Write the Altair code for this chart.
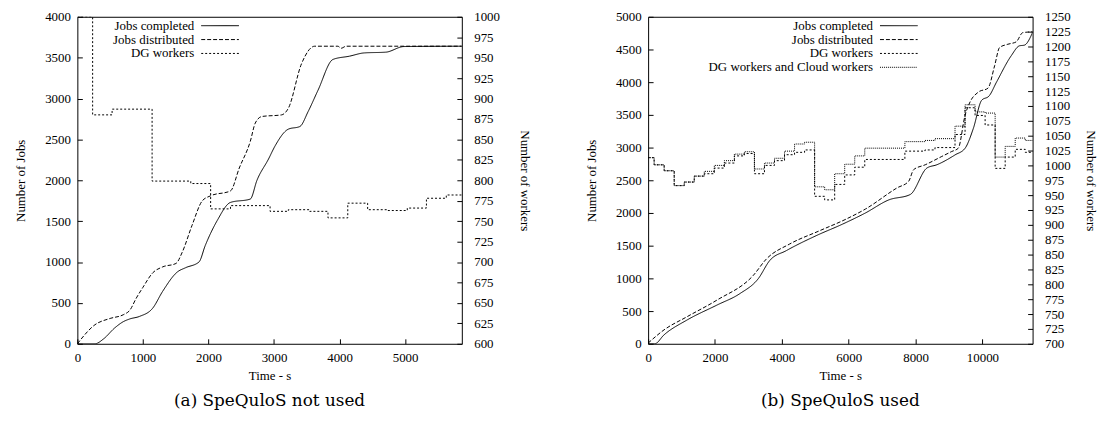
import altair as alt
import pandas as pd

# ---------------- Panel (a): SpeQuloS not used ----------------
a_comp_t = [0, 270, 400, 570, 700, 797, 949, 1150, 1300, 1528, 1650, 1856, 1950, 2133, 2336, 2638,
            2740, 2916, 3016, 3218, 3395, 3520, 3672, 3899, 4151, 4378, 4705, 4983, 5865]
a_comp_v = [0, 0, 60, 194, 270, 303, 335, 436, 640, 880, 930, 1001, 1200, 1507, 1729, 1770,
            2000, 2260, 2420, 2625, 2658, 2840, 3103, 3478, 3518, 3558, 3567, 3636, 3640]

a_dist_t = [0, 269, 500, 700, 800, 900, 1000, 1150, 1300, 1504, 1600, 1750, 1906, 2033, 2336, 2470,
            2638, 2714, 2814, 3116, 3218, 3419, 3621, 3974, 4024, 4100, 5865]
a_dist_v = [0, 233, 310, 355, 410, 560, 690, 868, 940, 982, 1120, 1450, 1749, 1810, 1870, 2150,
            2476, 2700, 2780, 2800, 2880, 3425, 3640, 3640, 3615, 3640, 3640]

a_dg_t = [0, 233, 530, 1140, 1730, 2033, 2336, 2940, 3218, 3545, 3823, 4125, 4428, 4730, 5033, 5325, 5628, 5865]
a_dg_v = [1000, 880, 887, 799, 796, 765, 769, 762, 764, 762, 754, 772, 764, 763, 766, 778, 782, 782]

# ---------------- Panel (b): SpeQuloS used ----------------
b_comp_t = [0, 200, 475, 1166, 2056, 2748, 3294, 3638, 4133, 5023, 5814, 6500, 7200, 7843, 8338,
            8635, 9184, 9481, 9728, 9975, 10200, 10420, 10861, 11107, 11255, 11500]
b_comp_v = [0, 0, 136, 364, 591, 768, 995, 1273, 1424, 1652, 1829, 2000, 2200, 2283, 2687,
            2737, 2889, 2990, 3293, 3722, 3790, 4000, 4404, 4556, 4566, 4760]

b_dist_t = [0, 475, 1166, 2056, 3145, 3540, 4232, 5122, 5913, 6500, 7447, 7794, 7942, 8289, 8784,
            9081, 9277, 9481, 9629, 9876, 10166, 10365, 10513, 10760, 11009, 11205, 11500]
b_dist_v = [10, 212, 414, 667, 1045, 1298, 1525, 1727, 1904, 2060, 2384, 2485, 2662, 2737, 2864,
            2940, 2990, 3495, 3697, 3848, 3909, 4253, 4530, 4580, 4616, 4757, 4770]

b_w_t = [0, 180, 480, 780, 1080, 1380, 1680, 1980, 2280, 2580, 2880, 3180, 3480, 3780, 4080, 4380,
         4680, 4980, 5280, 5580, 5880, 6180, 6480, 7680, 8280, 8580, 9180, 9480, 9780, 10080, 10380,
         10680, 10980, 11280, 11500]
b_cloud_v = [1013, 1001, 991, 966, 972, 982, 990, 1000, 1008, 1019, 1023, 994, 1004, 1012, 1024, 1036,
             1039, 964, 959, 986, 1002, 1016, 1029, 1040, 1042, 1045, 1066, 1102, 1090, 1088, 1014,
             1032, 1046, 1042, 1042]
b_dg_v = [1013, 1001, 991, 966, 972, 982, 986, 995.5, 1004, 1016, 1020, 986, 1000, 1008, 1018, 1022,
          1026, 948, 942, 968, 984, 997, 1010, 1024, 1026, 1030, 1052, 1097, 1084, 1068, 995,
          1014, 1027, 1022, 1022]

FONT = "Liberation Serif"
CAP_FONT = "DejaVu Serif"


def frame(ts, vs, name):
    return pd.DataFrame({"t": ts, "v": vs, "series": name})


def common_axis(**kw):
    base = dict(grid=False, domain=False, ticks=True, tickSize=5, tickColor="black", tickWidth=1,
                offset=-5, labelFont=FONT, labelFontSize=13, labelColor="black", format="d",
                titleFont=FONT, titleFontSize=13, titleFontWeight="normal", titleColor="black",
                labelFlush=False, labelOverlap=False)
    base.update(kw)
    return alt.Axis(**base)


def panel(jobs_df, work_df, series, dashes, xmax, xticks, ymax, yticks, wmin, wmax, wticks,
          caption, legend_x, right_title_pad):
    dash_scale = alt.Scale(domain=series, range=dashes)
    # wide horizontal sample line (gnuplot style: label on the left, sample on the right)
    legend = alt.Legend(orient="none", legendX=legend_x, legendY=2.5, title=None,
                        symbolType="M-5,0H5", symbolSize=57.76, symbolStrokeWidth=1,
                        symbolStrokeColor="black", symbolFillColor="transparent",
                        labelAlign="right", labelOffset={"expr": "-32.5"}, rowPadding=0,
                        labelFont=FONT, labelFontSize=13, labelColor="black", labelLimit=300,
                        padding=0, symbolOffset=0)
    xaxis = common_axis(values=xticks, title="Time - s", labelPadding=8, titlePadding=5)
    xenc = alt.X("t:Q", scale=alt.Scale(domain=[0, xmax], nice=False, zero=False), axis=xaxis)
    jobs = alt.Chart(jobs_df).mark_line(interpolate="monotone", strokeWidth=1, color="black",
                                        clip=True).encode(
        x=xenc,
        y=alt.Y("v:Q", scale=alt.Scale(domain=[0, ymax], nice=False),
                axis=common_axis(orient="left", values=yticks, title="Number of Jobs",
                                 labelPadding=7, titlePadding=17, labelBaseline="middle")),
        strokeDash=alt.StrokeDash("series:N", scale=dash_scale, legend=legend),
    )
    work = alt.Chart(work_df).mark_line(interpolate="step-after", strokeWidth=1, color="black",
                                        clip=True).encode(
        x=xenc,
        y=alt.Y("v:Q", scale=alt.Scale(domain=[wmin, wmax], nice=False, zero=False),
                axis=common_axis(orient="right", values=wticks, title="Number of workers",
                                 labelPadding=12, titlePadding=right_title_pad,
                                 labelBaseline="middle")),
        strokeDash=alt.StrokeDash("series:N", scale=dash_scale, legend=legend),
    )
    return alt.layer(jobs, work).resolve_scale(y="independent").properties(
        width=388, height=330,
        title=alt.TitleParams(caption, orient="bottom", font=CAP_FONT, fontSize=17,
                              fontWeight="normal", color="black", offset=11),
    )


a_series = ["Jobs completed", "Jobs distributed", "DG workers"]
a_jobs = pd.concat([frame(a_comp_t, a_comp_v, a_series[0]), frame(a_dist_t, a_dist_v, a_series[1])])
a_work = frame(a_dg_t, a_dg_v, a_series[2])

b_series = ["Jobs completed", "Jobs distributed", "DG workers", "DG workers and Cloud workers"]
b_jobs = pd.concat([frame(b_comp_t, b_comp_v, b_series[0]), frame(b_dist_t, b_dist_v, b_series[1])])
b_work = pd.concat([frame(b_w_t, b_dg_v, b_series[2]), frame(b_w_t, b_cloud_v, b_series[3])])

panel_a = panel(a_jobs, a_work, a_series, [[1, 0], [4, 2], [2, 2]],
                5865, list(range(0, 5001, 1000)), 4000, list(range(0, 4001, 500)),
                600, 1000, list(range(600, 1001, 25)), "(a) SpeQuloS not used", 137.5, 18)
panel_b = panel(b_jobs, b_work, b_series, [[1, 0], [4, 2], [2, 2], [1, 1]],
                11500, list(range(0, 10001, 2000)), 5000, list(range(0, 5001, 500)),
                700, 1250, list(range(700, 1251, 25)), "(b) SpeQuloS used", 246.5, 13)

chart = alt.hconcat(panel_a, panel_b, spacing=54).resolve_scale(
    strokeDash="independent"
).resolve_legend(
    strokeDash="independent"
).properties(
    padding={"left": 6, "top": 0, "right": 0, "bottom": 0}
).configure_view(stroke="black", strokeWidth=1)

chart.save("out.html", embed_options={"renderer": "svg", "actions": False})
